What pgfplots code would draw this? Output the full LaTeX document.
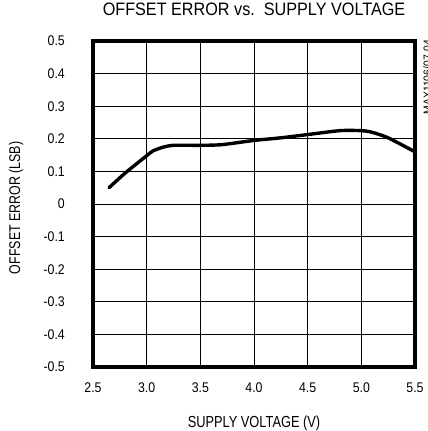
\documentclass[border=0pt]{standalone}
\usepackage{fontspec}
\setmainfont{Liberation Sans}
\usepackage{graphicx}
\newcommand\tl[1]{{\fontsize{14bp}{16bp}\selectfont\scalebox{0.88}[1]{#1}}}
\usepackage{pgfplots}
\pgfplotsset{compat=1.18}
\pgfplotstableread{
x y
2.65 0.050
2.80 0.095
3.00 0.148
3.06 0.163
3.15 0.174
3.25 0.180
3.50 0.180
3.70 0.182
4.00 0.195
4.25 0.203
4.50 0.213
4.80 0.225
5.00 0.225
5.10 0.220
5.25 0.203
5.50 0.160
}\offseterr
\begin{document}
\begin{tikzpicture}
\useasboundingbox (-93bp,-64bp) rectangle (335bp,367bp);
\begin{axis}[
  scale only axis, width=322bp, height=326bp,
  xmin=2.5, xmax=5.5, ymin=-0.5, ymax=0.5,
  xtick={2.5,3.0,3.5,4.0,4.5,5.0,5.5},
  xticklabels={\tl{2.5},\tl{3.0},\tl{3.5},\tl{4.0},\tl{4.5},\tl{5.0},\tl{5.5}},
  ytick={-0.5,-0.4,-0.3,-0.2,-0.1,0,0.1,0.2,0.3,0.4,0.5},
  yticklabels={\tl{-0.5},\tl{-0.4},\tl{-0.3},\tl{-0.2},\tl{-0.1},{\tl{0}\hspace{8.5bp}},\tl{0.1},\tl{0.2},\tl{0.3},\tl{0.4},\tl{0.5}},
  grid=major, major grid style={black, line width=0.9bp},
  major tick length=0pt,
  axis line style={line width=3.2bp, line join=miter},
  /pgf/number format/assume math mode=true,
  tick label style={inner sep=0pt},
  xticklabel style={anchor=base, yshift=-25bp},
  yticklabel style={anchor=east, xshift=-28bp},
  title={\scalebox{0.9}[1]{OFFSET ERROR vs.\ \ SUPPLY VOLTAGE}},
  title style={at={(axis description cs:0.5,1)}, anchor=base, yshift=20bp, inner sep=0pt, font=\fontsize{18bp}{20bp}\selectfont},
  xlabel={\scalebox{0.8}[1]{SUPPLY VOLTAGE (V)}},
  xlabel style={at={(axis description cs:0.5,0)}, anchor=base, yshift=-60bp, inner sep=0pt, font=\fontsize{16bp}{18bp}\selectfont},
  ylabel={\scalebox{0.8}[1]{OFFSET ERROR (LSB)}},
  ylabel style={at={(axis description cs:-0.2267,0.488)}, anchor=base, inner sep=0pt, font=\fontsize{15.5bp}{17bp}\selectfont},
]
\addplot[black, line width=3.4bp, line join=round, line cap=round, smooth, tension=0.4] table {\offseterr};
\end{axis}
\node[rotate=90, anchor=north east, inner sep=0pt, font=\fontsize{11.5bp}{13bp}\selectfont] at (330bp,327bp) {\scalebox{0.9}[1]{MAX1106/07-04}};
\end{tikzpicture}
\end{document}
